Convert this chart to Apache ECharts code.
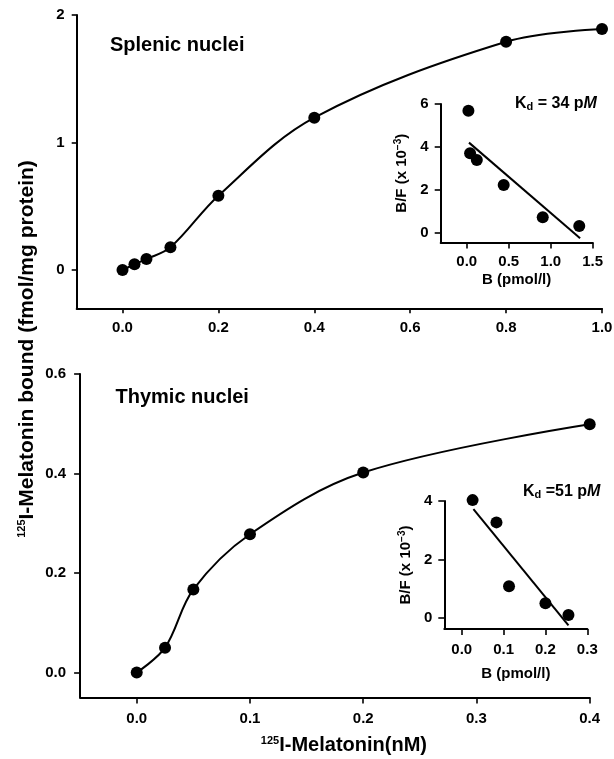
<!DOCTYPE html>
<html>
<head>
<meta charset="utf-8">
<script src="https://cdn.jsdelivr.net/npm/echarts@6/dist/echarts.min.js"></script>
<style>
html,body{margin:0;padding:0;background:#fff;}
#chart{width:614px;height:759px;}
</style>
</head>
<body>
<div id="chart"></div>
<script>
// ---- Data ----
const splenicConc = [0, 0.025, 0.05, 0.1, 0.2, 0.4, 0.8, 1.0];
const splenicBound = [0, 0.045, 0.086, 0.178, 0.583, 1.195, 1.79, 1.89];
const splenicScatB = [0.02, 0.04, 0.12, 0.44, 0.905, 1.34];
const splenicScatBF = [5.69, 3.70, 3.39, 2.22, 0.72, 0.31];
const splenicFitB = [0.027, 1.35];
const splenicFitBF = [4.2, -0.26];

const thymicConc = [0, 0.025, 0.05, 0.1, 0.2, 0.4];
const thymicBound = [0, 0.05, 0.167, 0.278, 0.402, 0.499];
const thymicScatB = [0.026, 0.083, 0.113, 0.2, 0.255];
const thymicScatBF = [4.03, 3.27, 1.09, 0.51, 0.11];
const thymicFitB = [0.028, 0.255];
const thymicFitBF = [3.72, -0.25];

// tick labels
const splenicXTicks = [0, 0.2, 0.4, 0.6, 0.8, 1.0];
const splenicYTicks = [0, 1, 2];
const splenicInsetXTicks = [0, 0.5, 1.0, 1.5];
const splenicInsetYTicks = [0, 2, 4, 6];
const thymicXTicks = [0, 0.1, 0.2, 0.3, 0.4];
const thymicYTicks = [0, 0.2, 0.4, 0.6];
const thymicInsetXTicks = [0, 0.1, 0.2, 0.3];
const thymicInsetYTicks = [0, 2, 4];

const FONT = 'Liberation Sans';
const zip = (a, b) => a.map((v, i) => [v, b[i]]);

function axis(opts) {
  const o = {
    type: 'value',
    gridIndex: opts.grid,
    min: opts.min, max: opts.max,
    splitLine: {show: false},
    axisLine: {show: true, onZero: false, lineStyle: {color: '#000', width: 2}},
    axisTick: {show: true, customValues: opts.ticks, length: opts.tickLen, lineStyle: {color: '#000', width: 1.6}},
    axisLabel: {
      customValues: opts.ticks,
      margin: opts.margin,
      color: '#000', fontFamily: FONT, fontWeight: 'bold', fontSize: opts.fontSize || 15,
      formatter: v => opts.dec ? Number(v).toFixed(opts.dec) : String(Math.round(v))
    }
  };
  if (opts.name) {
    o.name = opts.name;
    o.nameLocation = 'middle';
    o.nameGap = opts.nameGap;
    if (opts.nameRotate !== undefined) o.nameRotate = opts.nameRotate;
    o.nameTextStyle = Object.assign({color: '#000', fontFamily: FONT, fontWeight: 'bold', fontSize: opts.nameSize || 15}, opts.nameStyle || {});
  }
  return o;
}

const chart = echarts.init(document.getElementById('chart'), null, {renderer: 'canvas'});

const dot = {color: '#000', opacity: 1};

const option = {
  backgroundColor: '#fff',
  animation: false,
  grid: [
    {left: 76.7, right: 12, top: 15, bottom: 450.75, containLabel: false, outerBoundsMode: 'none'},
    {left: 440.7, right: 21.3, top: 104, bottom: 516.6, containLabel: false, outerBoundsMode: 'none'},
    {left: 80.1, right: 24.3, top: 374, bottom: 61.6, containLabel: false, outerBoundsMode: 'none'},
    {left: 444.3, right: 26.7, top: 501, bottom: 130, containLabel: false, outerBoundsMode: 'none'}
  ],
  xAxis: [
    axis({grid: 0, min: -0.0955, max: 1.0, ticks: splenicXTicks, tickLen: 5, margin: 12, dec: 1}),
    axis({grid: 1, min: -0.31, max: 1.5, ticks: splenicInsetXTicks, tickLen: 6, margin: 12, dec: 1,
          name: 'B (pmol/l)', nameGap: 30}),
    axis({grid: 2, min: -0.05, max: 0.4, ticks: thymicXTicks, tickLen: 6, margin: 14, dec: 1,
          name: '{s|125}{t|I-Melatonin(nM)}', nameGap: 38, nameSize: 20,
          nameStyle: {padding: [0, 0, 0, 18], rich: {
            s: {fontSize: 11, fontFamily: FONT, fontWeight: 'bold', color: '#000', verticalAlign: 'top', padding: [0, 0, 8, 0]},
            t: {fontSize: 20, fontFamily: FONT, fontWeight: 'bold', color: '#000'}
          }}}),
    axis({grid: 3, min: -0.0416, max: 0.3, ticks: thymicInsetXTicks, tickLen: 6, margin: 13, dec: 1,
          name: 'B (pmol/l)', nameGap: 37})
  ],
  yAxis: [
    axis({grid: 0, min: -0.3, max: 2, ticks: splenicYTicks, tickLen: 5, margin: 12}),
    axis({grid: 1, min: -0.45, max: 6, ticks: splenicInsetYTicks, tickLen: 6, margin: 12,
          name: '{a|B/F (x 10}{s|−3}{a|)}', nameGap: 30, nameRotate: 90,
          nameStyle: {rich: {
            a: {fontSize: 15, fontFamily: FONT, fontWeight: 'bold', color: '#000'},
            s: {fontSize: 10, fontFamily: FONT, fontWeight: 'bold', color: '#000', verticalAlign: 'top', padding: [0, 0, 7, 0]}
          }}}),
    axis({grid: 2, min: -0.05, max: 0.6, ticks: thymicYTicks, tickLen: 6, margin: 14, dec: 1}),
    axis({grid: 3, min: -0.37, max: 4, ticks: thymicInsetYTicks, tickLen: 6, margin: 12,
          name: '{a|B/F (x 10}{s|−3}{a|)}', nameGap: 30, nameRotate: 90,
          nameStyle: {rich: {
            a: {fontSize: 15, fontFamily: FONT, fontWeight: 'bold', color: '#000'},
            s: {fontSize: 10, fontFamily: FONT, fontWeight: 'bold', color: '#000', verticalAlign: 'top', padding: [0, 0, 7, 0]}
          }}})
  ],
  series: [
    {type: 'line', xAxisIndex: 0, yAxisIndex: 0, data: zip(splenicConc, splenicBound), clip: false,
     smooth: 0.35, symbol: 'circle', symbolSize: 12,
     itemStyle: dot, lineStyle: {color: '#000', width: 2}},
    {type: 'scatter', xAxisIndex: 1, yAxisIndex: 1, data: zip(splenicScatB, splenicScatBF), clip: false,
     symbol: 'circle', symbolSize: 12, itemStyle: dot},
    {type: 'line', xAxisIndex: 1, yAxisIndex: 1, data: zip(splenicFitB, splenicFitBF), clip: false,
     symbol: 'none', lineStyle: {color: '#000', width: 2}},
    {type: 'line', xAxisIndex: 2, yAxisIndex: 2, data: zip(thymicConc, thymicBound), clip: false,
     smooth: 0.35, symbol: 'circle', symbolSize: 12,
     itemStyle: dot, lineStyle: {color: '#000', width: 2}},
    {type: 'scatter', xAxisIndex: 3, yAxisIndex: 3, data: zip(thymicScatB, thymicScatBF), clip: false,
     symbol: 'circle', symbolSize: 12, itemStyle: dot},
    {type: 'line', xAxisIndex: 3, yAxisIndex: 3, data: zip(thymicFitB, thymicFitBF), clip: false,
     symbol: 'none', lineStyle: {color: '#000', width: 2}}
  ],
  graphic: [
    {type: 'text', x: 110, y: 45, style: {text: 'Splenic nuclei', fill: '#000', font: 'bold 20px "Liberation Sans"', verticalAlign: 'middle', align: 'left'}},
    {type: 'text', x: 115.5, y: 397, style: {text: 'Thymic nuclei', fill: '#000', font: 'bold 20px "Liberation Sans"', verticalAlign: 'middle', align: 'left'}},
    {type: 'text', x: 515, y: 104, style: {
      text: '{k|K}{d|d}{k| = 34 p}{m|M}', align: 'left', verticalAlign: 'middle',
      rich: {
        k: {fontSize: 16, fontFamily: FONT, fontWeight: 'bold', fill: '#000'},
        d: {fontSize: 11, fontFamily: FONT, fontWeight: 'bold', fill: '#000', verticalAlign: 'bottom', padding: [6, 0, 0, 0]},
        m: {fontSize: 16, fontFamily: FONT, fontWeight: 'bold', fontStyle: 'italic', fill: '#000'}
      }}},
    {type: 'text', x: 523, y: 492, style: {
      text: '{k|K}{d|d}{k| =51 p}{m|M}', align: 'left', verticalAlign: 'middle',
      rich: {
        k: {fontSize: 16, fontFamily: FONT, fontWeight: 'bold', fill: '#000'},
        d: {fontSize: 11, fontFamily: FONT, fontWeight: 'bold', fill: '#000', verticalAlign: 'bottom', padding: [6, 0, 0, 0]},
        m: {fontSize: 16, fontFamily: FONT, fontWeight: 'bold', fontStyle: 'italic', fill: '#000'}
      }}},
    {type: 'text', x: 27, y: 349, rotation: Math.PI / 2, style: {
      text: '{s|125}{t|I-Melatonin bound (fmol/mg protein)}', align: 'center', verticalAlign: 'middle',
      rich: {
        s: {fontSize: 11, fontFamily: FONT, fontWeight: 'bold', fill: '#000', verticalAlign: 'top', padding: [0, 0, 8, 0]},
        t: {fontSize: 21, fontFamily: FONT, fontWeight: 'bold', fill: '#000'}
      }}}
  ]
};
chart.setOption(option);
</script>
</body>
</html>
